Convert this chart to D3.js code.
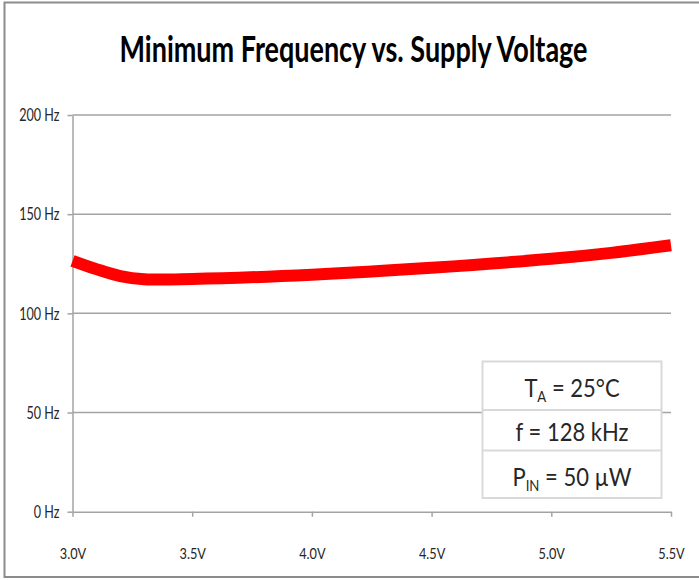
<!DOCTYPE html>
<html>
<head>
<meta charset="utf-8">
<script src="https://cdn.jsdelivr.net/npm/d3@7"></script>
<style>
  html, body { margin: 0; padding: 0; background: #fff; }
  svg { display: block; }
</style>
</head>
<body>
<div id="chart"></div>
<script>
// Data
const voltages = [3.0, 3.1, 3.2, 3.3, 3.5, 4.0, 4.5, 5.0, 5.25, 5.5];
const minFreq = [126.5, 122.3, 118.8, 117.2, 117.3, 119.5, 123, 127.5, 130.5, 134.3];
const xTicks = [3.0, 3.5, 4.0, 4.5, 5.0, 5.5];
const yTicks = [0, 50, 100, 150, 200];
const titleText = 'Minimum Frequency vs. Supply Voltage';

const width = 699;
const height = 580;
const FONT = 'Lato, "Open Sans", sans-serif';
const TEXT_COLOR = '#262626';
const GRID_COLOR = '#a3a3a3';

const svg = d3.select('#chart')
    .append('svg')
    .attr('width', width)
    .attr('height', height);

// outer frame
svg.append('rect')
    .attr('x', 4.5)
    .attr('y', 2.5)
    .attr('width', width + 10)
    .attr('height', 574.5)
    .style('fill', '#fff')
    .style('stroke', '#8c8c8c')
    .style('stroke-width', 2);

// scales
const x = d3.scaleLinear().domain([3.0, 5.5]).range([72.5, 671]);
const y = d3.scaleLinear().domain([0, 200]).range([511.7, 115]);

// title, squeezed horizontally like the reference
svg.append('text')
    .attr('transform', 'translate(353.5,61.5) scale(0.75,1)')
    .attr('text-anchor', 'middle')
    .style('font-family', FONT)
    .style('font-weight', 'bold')
    .style('font-size', '36px')
    .style('fill', '#000')
    .text(titleText);

// gridlines
svg.append('g')
    .attr('class', 'grid')
    .selectAll('line')
    .data(yTicks.filter(d => d > 0))
    .join('line')
    .attr('x1', x(3.0))
    .attr('x2', x(5.5))
    .attr('y1', d => y(d))
    .attr('y2', d => y(d))
    .style('stroke', GRID_COLOR)
    .style('stroke-width', 1.5);

// y axis
const yAxis = svg.append('g')
    .attr('class', 'y-axis')
    .attr('transform', `translate(${x(3.0)},0)`)
    .call(d3.axisLeft(y)
        .tickValues(yTicks)
        .tickSize(5)
        .tickSizeOuter(0)
        .tickFormat(d => d + ' Hz'));

yAxis.selectAll('text')
    .attr('x', null)
    .attr('transform', 'translate(-13,0) scale(0.7,1)')
    .style('font-family', FONT)
    .style('font-size', '18px')
    .style('fill', TEXT_COLOR);

// x axis
const xAxis = svg.append('g')
    .attr('class', 'x-axis')
    .attr('transform', `translate(0,${y(0)})`)
    .call(d3.axisBottom(x)
        .tickValues(xTicks)
        .tickSize(5)
        .tickSizeOuter(0)
        .tickFormat(d => d.toFixed(1) + 'V'));

xAxis.selectAll('text')
    .attr('y', 0)
    .attr('dy', 0)
    .attr('transform', 'translate(0,47) scale(0.85,1)')
    .style('font-family', FONT)
    .style('font-size', '15px')
    .style('fill', TEXT_COLOR);

svg.selectAll('.x-axis path, .x-axis line, .y-axis path, .y-axis line')
    .style('stroke', GRID_COLOR)
    .style('stroke-width', 1.5);

// data line
const line = d3.line()
    .x(d => x(d.v))
    .y(d => y(d.f))
    .curve(d3.curveCatmullRom.alpha(0.5));

svg.append('path')
    .datum(voltages.map((v, i) => ({ v: v, f: minFreq[i] })))
    .attr('d', line)
    .style('fill', 'none')
    .style('stroke', '#ff0000')
    .style('stroke-width', 12)
    .style('stroke-linecap', 'butt');

// conditions table
const table = svg.append('g').attr('class', 'conditions');
const rowEdges = [361.5, 410, 450.5, 498];

table.append('rect')
    .attr('x', 482.5)
    .attr('y', rowEdges[0])
    .attr('width', 179)
    .attr('height', rowEdges[3] - rowEdges[0])
    .style('fill', '#fff')
    .style('stroke', '#d9d9d9')
    .style('stroke-width', 2);

table.selectAll('line')
    .data(rowEdges.slice(1, 3))
    .join('line')
    .attr('x1', 482.5)
    .attr('x2', 661.5)
    .attr('y1', d => d)
    .attr('y2', d => d)
    .style('stroke', '#d9d9d9')
    .style('stroke-width', 2);

const rows = [
    { base: 397, parts: [['T', false], ['A', true], [' = 25°C', false]] },
    { base: 441, parts: [['f = 128 kHz', false]] },
    { base: 485.5, parts: [['P', false], ['IN', true], [' = 50 µW', false]] }
];

rows.forEach(r => {
    const t = table.append('text')
        .attr('transform', `translate(572,${r.base}) scale(0.88,1)`)
        .attr('text-anchor', 'middle')
        .style('font-family', FONT)
        .style('font-size', '25px')
        .style('fill', TEXT_COLOR);
    r.parts.forEach(([s, sub]) => {
        const ts = t.append('tspan').text(s);
        if (sub) {
            ts.style('font-size', '15px').attr('dy', 5);
        } else if (t.selectAll('tspan').size() > 1) {
            ts.attr('dy', -5);
        }
    });
});
</script>
</body>
</html>
